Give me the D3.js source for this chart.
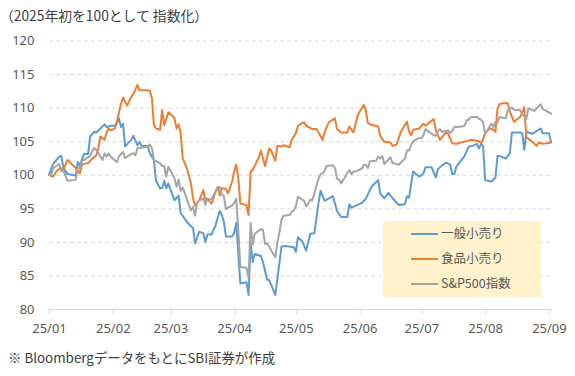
<!DOCTYPE html>
<html>
<head>
<meta charset="utf-8">
<script src="https://cdn.jsdelivr.net/npm/d3@7"></script>
<style>
  html, body { margin: 0; padding: 0; background: #fff; }
  svg { display: block; font-family: "Noto Sans CJK JP", "Noto Sans", sans-serif; }
</style>
</head>
<body>
<svg id="chart" width="575" height="376"></svg>
<script>
/* ============================================================
   2025 index chart: retail vs food retail vs S&P500 (2025年初 = 100)
   ============================================================ */

// -- Data (dates are 2025, "MM-DD") ---------------------------
const retailDates = [
  "01-01","01-03","01-06","01-07","01-08","01-10","01-14","01-15","01-16","01-18","01-20","01-21","01-23","01-24","01-26","01-28","01-29","01-31",
  "02-02","02-03","02-04","02-05","02-06","02-07","02-09","02-10","02-11","02-13","02-14","02-15","02-18","02-19","02-21","02-22","02-24","02-25","02-26","02-27","02-28",
  "03-02","03-03","03-05","03-06","03-09","03-11","03-12","03-13","03-15","03-17","03-18","03-19","03-21","03-23","03-25","03-26","03-27","03-28","03-31",
  "04-01","04-02","04-04","04-07","04-08","04-09","04-10","04-11","04-14","04-15","04-17","04-18","04-21","04-24","04-26","04-30",
  "05-01","05-02","05-04","05-06","05-08","05-10","05-12","05-13","05-15","05-19","05-21","05-23","05-26","05-27","05-28","05-31",
  "06-02","06-04","06-06","06-07","06-10","06-11","06-13","06-15","06-17","06-20","06-23","06-24","06-25","06-27","06-30",
  "07-02","07-03","07-06","07-08","07-09","07-11","07-13","07-15","07-16","07-17","07-18","07-21","07-22","07-24","07-26","07-28","07-29","07-30","07-31",
  "08-01","08-04","08-06","08-07","08-08","08-11","08-13","08-14","08-18","08-19","08-20","08-21","08-24","08-27","08-28","08-29","09-01","09-02"
];
const retailValues = [
  100.0,101.6,102.7,102.8,101.0,100.1,99.9,101.9,101.4,103.1,103.1,105.7,106.4,106.3,106.9,107.5,107.1,107.3,
  107.3,107.7,108.4,107.1,107.6,104.2,104.9,105.2,105.8,104.4,104.9,104.3,104.3,103.2,102.2,99.1,98.0,98.0,99.1,98.0,98.7,
  97.0,96.2,96.9,94.3,93.0,92.3,92.1,89.8,91.5,91.3,90.0,91.1,91.1,92.5,94.6,94.0,93.0,90.8,90.8,
  91.3,92.8,83.8,84.0,82.1,89.9,87.0,88.2,87.9,87.0,84.4,84.3,82.1,89.3,89.4,89.2,
  88.5,90.7,90.1,88.7,91.2,91.3,95.8,97.6,96.1,96.8,94.6,93.7,93.7,95.6,95.1,95.5,
  95.8,96.4,97.7,98.3,99.2,97.2,96.5,97.3,96.5,95.5,95.6,96.8,96.6,100.5,99.7,
  100.2,101.1,101.1,99.6,100.8,101.4,101.8,101.5,100.1,100.1,101.2,102.4,102.8,104.2,104.3,104.6,103.9,104.6,104.3,
  99.2,99.0,99.6,102.8,102.8,102.4,103.2,106.3,106.3,106.2,103.7,106.4,106.1,106.7,106.9,106.2,106.2,104.9
];

const foodDates = [
  "01-01","01-03","01-05","01-07","01-08","01-10","01-11","01-14","01-16","01-17","01-19","01-20","01-22","01-24","01-25","01-26","01-28","01-29","01-30","01-31",
  "02-02","02-03","02-05","02-06","02-08","02-10","02-11","02-13","02-14","02-17","02-19","02-20","02-21","02-22","02-24","02-25","02-26","02-28",
  "03-02","03-03","03-04","03-05","03-06","03-07","03-09","03-11","03-12","03-13","03-15","03-17","03-18","03-19","03-21","03-22","03-23","03-24","03-25","03-26","03-28","03-29","03-31",
  "04-01","04-02","04-03","04-04","04-07","04-08","04-09","04-10","04-13","04-14","04-16","04-18","04-19","04-21","04-22","04-24","04-25","04-28","04-29",
  "05-01","05-02","05-04","05-05","05-06","05-09","05-11","05-14","05-15","05-17","05-19","05-20","05-21","05-23","05-26","05-27","05-28","05-29","05-31",
  "06-01","06-03","06-04","06-05","06-07","06-10","06-11","06-13","06-16","06-17","06-19","06-21","06-24","06-25","06-26","06-27","06-30",
  "07-02","07-03","07-05","07-07","07-08","07-10","07-13","07-14","07-16","07-18","07-20","07-22","07-25","07-27","07-29","07-30","07-31",
  "08-01","08-03","08-04","08-06","08-07","08-08","08-09","08-12","08-13","08-15","08-18","08-19","08-20","08-21","08-24","08-26","08-27","08-29","09-02"
];
const foodValues = [
  100.0,99.7,100.7,101.0,100.8,102.2,101.9,101.0,100.2,101.5,101.7,101.7,102.4,102.9,104.0,105.7,105.2,106.3,106.9,106.6,
  106.9,107.9,110.6,111.5,110.3,111.6,112.0,113.4,112.6,112.6,112.5,111.4,107.4,106.9,106.7,109.6,107.4,109.3,
  108.8,108.4,106.9,107.5,106.2,102.4,101.0,98.7,96.5,95.4,96.2,97.7,96.2,96.4,95.7,96.6,97.5,98.2,96.9,98.0,97.9,97.2,99.0,
  100.5,101.5,99.5,95.7,95.5,94.0,100.5,100.7,102.6,103.6,101.3,103.9,103.6,102.1,104.3,104.2,104.4,104.1,105.2,
  106.2,107.3,107.7,107.8,107.3,106.8,106.8,105.2,106.4,107.8,108.2,108.4,106.8,106.3,106.3,107.2,106.7,106.3,108.8,
  109.4,110.4,109.6,107.7,107.4,107.2,105.8,104.9,104.8,104.3,104.5,106.4,107.9,106.4,105.9,106.7,106.9,
  107.6,107.3,107.8,108.3,106.7,105.2,106.3,106.1,104.7,104.6,104.8,104.9,105.2,105.1,105.0,104.7,105.3,
  106.2,106.8,106.9,106.4,109.8,110.5,110.6,110.7,109.4,107.9,108.6,109.2,110.1,105.6,104.9,104.3,104.8,104.6,104.8
];

const spxDates = [
  "01-01","01-02","01-03","01-06","01-07","01-08","01-10","01-13","01-14","01-15","01-16","01-17","01-21","01-22","01-23","01-24","01-27","01-28","01-29","01-30","01-31",
  "02-03","02-04","02-05","02-06","02-07","02-10","02-11","02-12","02-13","02-14","02-18","02-19","02-20","02-21","02-24","02-25","02-26","02-27","02-28",
  "03-03","03-04","03-05","03-06","03-07","03-10","03-11","03-12","03-13","03-14","03-17","03-18","03-19","03-20","03-21","03-24","03-25","03-26","03-27","03-28","03-31",
  "04-01","04-02","04-03","04-04","04-07","04-08","04-09","04-10","04-11","04-14","04-15","04-16","04-17","04-21","04-22","04-23","04-24","04-25","04-28","04-29","04-30",
  "05-01","05-02","05-05","05-06","05-07","05-08","05-09","05-12","05-13","05-14","05-15","05-16","05-19","05-20","05-21","05-22","05-23","05-27","05-28","05-29","05-30",
  "06-02","06-03","06-04","06-05","06-06","06-09","06-10","06-11","06-12","06-13","06-16","06-17","06-18","06-20","06-23","06-24","06-25","06-26","06-27","06-30",
  "07-01","07-02","07-03","07-07","07-08","07-09","07-10","07-11","07-14","07-15","07-16","07-17","07-18","07-21","07-22","07-23","07-24","07-25","07-28","07-29","07-30","07-31",
  "08-01","08-04","08-05","08-06","08-07","08-08","08-11","08-12","08-13","08-14","08-15","08-18","08-19","08-20","08-21","08-22","08-25","08-26","08-27","08-28","08-29","09-02"
];
const spxValues = [
  100.0,99.8,101.0,101.6,100.5,100.6,99.1,99.2,99.3,101.2,100.9,102.0,102.8,103.5,104.0,103.7,102.2,103.2,102.7,103.2,102.7,
  101.9,102.7,103.1,103.4,102.5,103.1,103.2,102.9,104.0,104.0,104.2,104.5,104.0,102.2,101.7,101.3,101.3,99.7,101.2,
  99.5,98.2,99.3,97.6,98.1,95.5,94.7,95.2,93.9,95.9,96.5,95.5,96.5,96.3,96.4,98.1,98.2,97.1,96.8,94.9,95.4,
  95.8,96.4,91.8,86.3,86.1,84.7,92.8,89.6,91.2,91.9,91.8,89.7,89.8,87.7,89.9,91.4,93.3,93.9,94.0,94.5,94.7,
  95.3,96.7,96.1,95.3,95.7,96.3,96.2,99.4,100.1,100.2,100.6,101.3,101.4,101.0,99.4,99.3,98.7,100.7,100.1,100.5,100.5,
  100.9,101.5,101.5,101.0,102.0,102.1,102.7,102.4,102.8,101.6,102.6,101.7,101.7,101.5,102.4,103.6,103.6,104.4,105.0,105.5,
  105.4,105.9,106.8,105.9,105.8,106.5,106.8,106.4,106.6,106.2,106.5,107.1,107.1,107.2,107.3,108.1,108.2,108.6,108.6,108.3,108.2,107.8,
  106.1,107.6,107.1,107.9,107.8,108.6,108.4,109.6,109.9,110.0,109.7,109.6,109.0,108.7,108.3,109.9,109.5,109.9,110.2,110.5,109.8,109.1
];

const seriesNames = ["一般小売り", "食品小売り", "S&P500指数"];
const seriesColors = ["#5b9bd5", "#ed7d31", "#a5a5a5"];
const yTicks = [80, 85, 90, 95, 100, 105, 110, 115, 120];
const monthTicks = ["01-01","02-01","03-01","04-01","05-01","06-01","07-01","08-01","09-01"];
const monthLabels = ["25/01","25/02","25/03","25/04","25/05","25/06","25/07","25/08","25/09"];
const titleText = "（2025年初を100として 指数化）";
const noteText = "※ BloombergデータをもとにSBI証券が作成";

// -- Layout -------------------------------------------------
const X0 = 49, X1 = 551, Y_TOP = 40.5, Y_BOT = 309;
const TEXT = "#595959";
const GRID = "#d9d9d9";

const parseDate = (s) => d3.timeParse("%Y-%m-%d")("2025-" + s);

const svg = d3.select("#chart");

const x = d3
  .scaleTime()
  .domain([parseDate("01-01"), parseDate("09-02")])
  .range([X0, X1]);

const y = d3.scaleLinear().domain([80, 120]).range([Y_BOT, Y_TOP]);

// -- Y axis + dashed gridlines -------------------------------
const yAxis = svg
  .append("g")
  .attr("transform", `translate(${X0},0)`)
  .call(
    d3.axisLeft(y)
      .tickValues(yTicks)
      .tickSize(-(X1 - X0))
      .tickPadding(14.5)
      .tickFormat(d3.format("d"))
  );
yAxis.select(".domain").remove();
yAxis.selectAll(".tick line")
  .attr("stroke", GRID)
  .attr("stroke-width", 1)
  .attr("stroke-dasharray", "4,3")
  .attr("display", (d) => (d === 80 ? "none" : null));
yAxis.selectAll(".tick text")
  .attr("fill", TEXT)
  .style("font-size", "13px")
  .style("font-family", "'Noto Sans', sans-serif");

// -- X axis ------------------------------------------------
const xAxis = svg
  .append("g")
  .attr("transform", `translate(0,${Y_BOT})`)
  .call(
    d3.axisBottom(x)
      .tickValues(monthTicks.map(parseDate))
      .tickFormat((d, i) => monthLabels[i])
      .tickSize(5)
      .tickSizeOuter(0)
      .tickPadding(10)
  );
xAxis.select(".domain").attr("stroke", GRID);
xAxis.selectAll(".tick line").attr("stroke", GRID);
xAxis.selectAll(".tick text")
  .attr("fill", TEXT)
  .style("font-size", "13px")
  .style("font-family", "'Noto Sans', sans-serif");

// -- Lines -------------------------------------------------
const series = [
  { dates: retailDates, values: retailValues },
  { dates: foodDates, values: foodValues },
  { dates: spxDates, values: spxValues },
].map((s, i) => ({
  name: seriesNames[i],
  color: seriesColors[i],
  points: s.dates.map((d, j) => ({ date: parseDate(d), value: s.values[j] })),
}));

const line = d3
  .line()
  .x((d) => x(d.date))
  .y((d) => y(d.value));

svg
  .append("g")
  .selectAll("path")
  .data(series)
  .join("path")
  .attr("d", (d) => line(d.points))
  .attr("fill", "none")
  .attr("stroke", (d) => d.color)
  .attr("stroke-width", 2)
  .attr("stroke-linejoin", "round")
  .attr("stroke-linecap", "round");

// -- Legend ------------------------------------------------
const legend = svg.append("g").attr("transform", "translate(383,221)");
legend.append("rect").attr("width", 158).attr("height", 76).attr("fill", "#fff2cc");

const rows = legend
  .selectAll("g")
  .data(series)
  .join("g")
  .attr("transform", (d, i) => `translate(0,${13 + i * 25})`);
rows.append("line")
  .attr("x1", 28).attr("x2", 55)
  .attr("stroke", (d) => d.color)
  .attr("stroke-width", 2);
rows.append("text")
  .attr("x", 58)
  .attr("dy", "0.35em")
  .attr("fill", TEXT)
  .style("font-size", "12.5px")
  .text((d) => d.name);

// -- Title & note ------------------------------------------
svg.append("text")
  .attr("x", 0)
  .attr("y", 21)
  .attr("fill", "#404040")
  .style("font-size", "13.8px")
  .text(titleText);

svg.append("text")
  .attr("x", 8)
  .attr("y", 363)
  .attr("fill", "#404040")
  .style("font-size", "13.4px")
  .text(noteText);
</script>
</body>
</html>
